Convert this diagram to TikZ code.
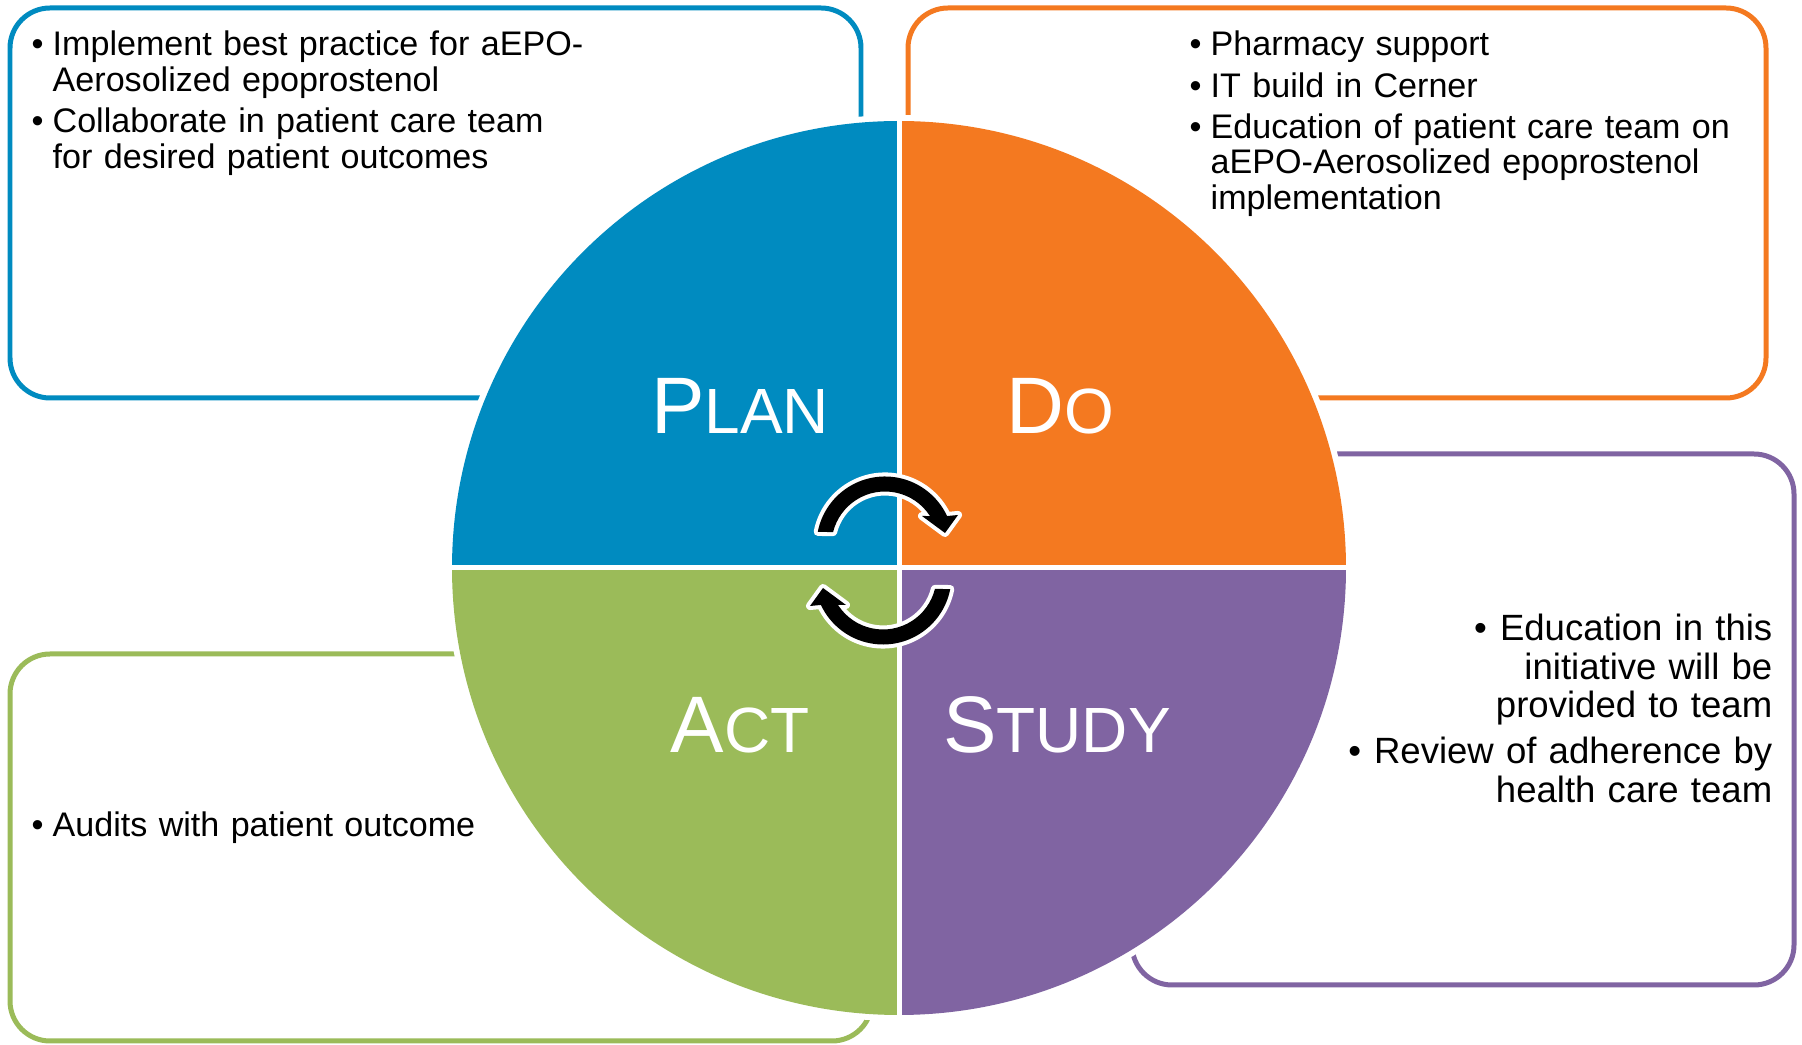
\documentclass[tikz,border=0pt]{standalone}
\usepackage{fontspec}
\setmainfont{Liberation Sans}
\usepackage{tikz}
\usepackage{xcolor}
\definecolor{PlanBlue}{HTML}{008BC0}
\definecolor{DoOrange}{HTML}{F47920}
\definecolor{StudyPurple}{HTML}{8064A2}
\definecolor{ActGreen}{HTML}{9BBB59}

\newcommand{\bitem}{\makebox[2.1mm][l]{\textbullet}}
\newcommand{\bpad}{\hspace*{2.1mm}}
\newcommand{\phasename}[2]{{\fontsize{22.8pt}{24pt}\selectfont #1}{\fontsize{18.2pt}{19pt}\selectfont #2}}

\begin{document}
\begin{tikzpicture}[x=0.1mm, y=-0.1mm,
    notebox/.style={rounded corners=4mm, line width=1.42pt, fill=white},
    notetext/.style={inner sep=0pt, text width=62mm, font=\fontsize{9.7pt}{10.1pt}\selectfont},
    phaselabel/.style={text=white, inner sep=0pt, anchor=base},
    turnarrow/.style={fill=black, preaction={draw=white, line width=2.3pt, line join=round}}]

  \useasboundingbox (0,0) rectangle (1802,1045);

  % boxes sit behind the wheel
  \node[notebox, draw=PlanBlue, minimum width=85.1mm, minimum height=39mm] (planbox) at (435.5,203) {};
  \node[notebox, draw=DoOrange, minimum width=85.8mm, minimum height=39mm] (dobox) at (1337,203) {};
  \node[notebox, draw=StudyPurple, minimum width=66.2mm, minimum height=53.1mm] (studybox) at (1463,719.5) {};
  \node[notebox, draw=ActGreen, minimum width=86.2mm, minimum height=38.7mm] (actbox) at (441,847.5) {};

  \node[notetext, align=left, anchor=base west] (plantext) at (31,56)
    {\bitem Implement best practice for aEPO-\\ \bpad Aerosolized epoprostenol\\[1.6pt]
     \bitem Collaborate in patient care team\\ \bpad for desired patient outcomes};
  \node[notetext, align=left, anchor=base west] (dotext) at (1189,56)
    {\bitem Pharmacy support\\[1.6pt] \bitem IT build in Cerner\\[1.6pt]
     \bitem Education of patient care team on\\ \bpad aEPO-Aerosolized epoprostenol\\ \bpad implementation};
  \node[notetext, font=\fontsize{10.4pt}{10.95pt}\selectfont, align=right, anchor=base east] (studytext) at (1773,641)
    {\textbullet\hspace{1.3mm}Education in this\\ initiative will be\\ provided to team\\[2.1pt]
     \textbullet\hspace{1.3mm}Review of adherence by\\ health care team};
  \node[notetext, align=left, anchor=base west] (acttext) at (31,837)
    {\bitem Audits with patient outcome};

  % the wheel, with a white rim and white cross
  \fill[white] (899,568) circle[radius=453];
  \fill[PlanBlue] (899,568) -- ++(180:447) arc[start angle=180, end angle=270, radius=447] -- cycle;
  \fill[DoOrange] (899,568) -- ++(270:447) arc[start angle=270, end angle=360, radius=447] -- cycle;
  \fill[StudyPurple] (899,568) -- ++(0:447) arc[start angle=0, end angle=90, radius=447] -- cycle;
  \fill[ActGreen] (899,568) -- ++(90:447) arc[start angle=90, end angle=180, radius=447] -- cycle;
  \draw[white, line width=1.42pt] (899,115) -- (899,1021);
  \draw[white, line width=1.42pt] (446,568) -- (1352,568);

  % turning arrows in the hub
  \begin{scope}[shift={(885,545)}]
    \path[turnarrow] (191:68.5) arc[start angle=191, end angle=335, radius=68.5]
      -- (73,-30) -- (60,-12) -- (37,-29) -- (327.2:53.5)
      arc[start angle=327.2, end angle=194, radius=53.5] -- cycle;
  \end{scope}
  \begin{scope}[shift={(883,576)}, rotate=180]
    \path[turnarrow] (191:68.5) arc[start angle=191, end angle=335, radius=68.5]
      -- (73,-30) -- (60,-12) -- (37,-29) -- (327.2:53.5)
      arc[start angle=327.2, end angle=194, radius=53.5] -- cycle;
  \end{scope}

  \node[phaselabel] (plan) at (740,434) {\phasename{P}{LAN}};
  \node[phaselabel] (do) at (1060,434) {\phasename{D}{O}};
  \node[phaselabel] (act) at (740,753) {\phasename{A}{CT}};
  \node[phaselabel] (study) at (1057,753) {\phasename{S}{TUDY}};
\end{tikzpicture}
\end{document}
